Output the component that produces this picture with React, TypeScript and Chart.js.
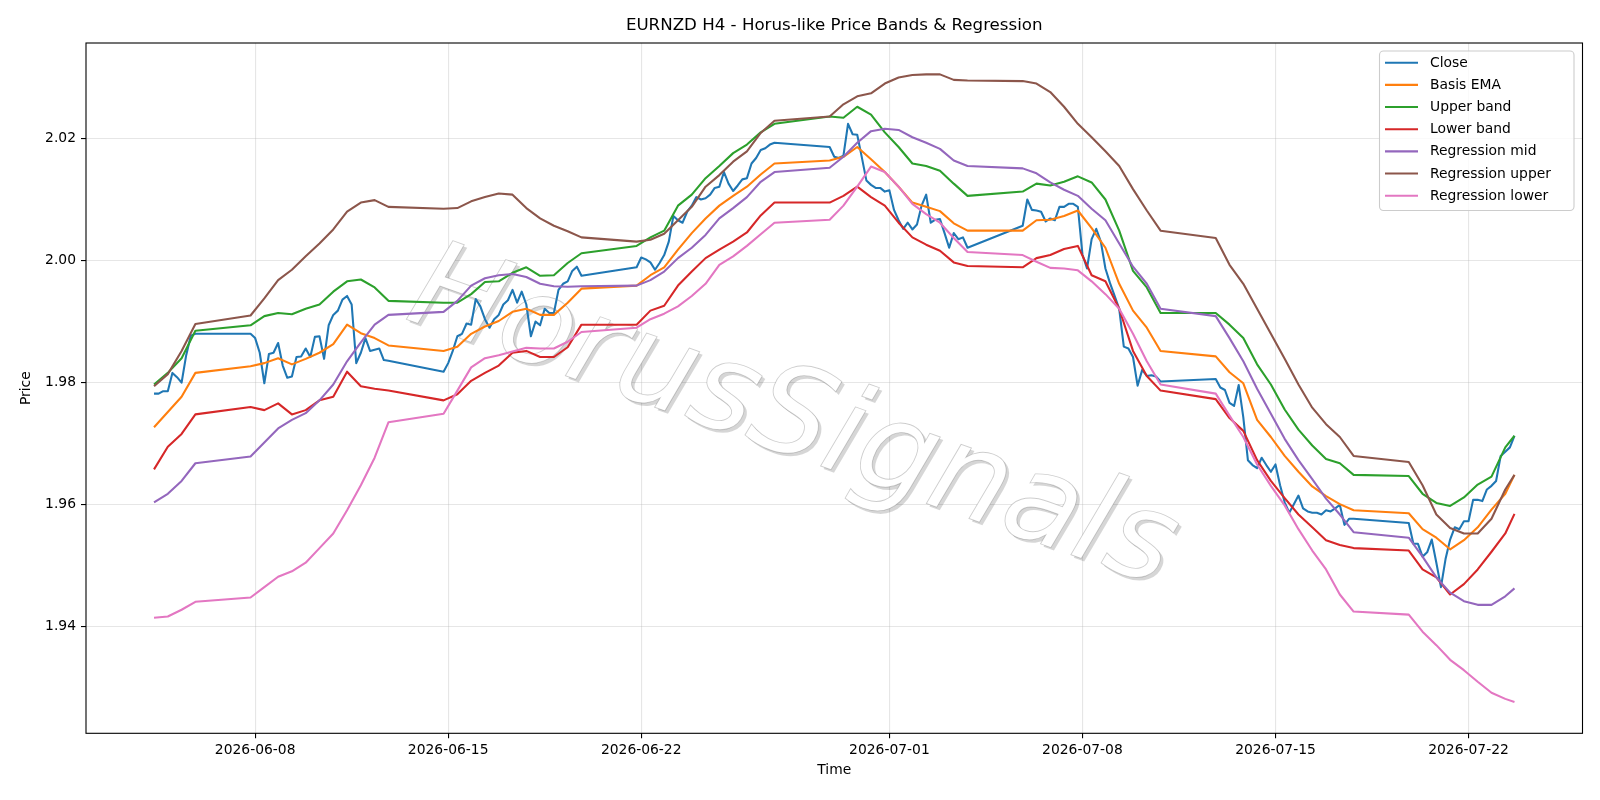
import React, { useEffect, useRef } from 'react';
import { Chart, registerables } from 'chart.js';

Chart.register(...registerables);

const FONT = '"DejaVu Sans", "Liberation Sans", sans-serif';
const TITLE = 'EURNZD H4 - Horus-like Price Bands & Regression';
const WATERMARK = 'HorusSignals';

// trading sessions (H4 bars, weekends removed)
const sessionStarts = [
  '2026-06-04T08:00:00Z',
  '2026-06-07T20:00:00Z',
  '2026-06-14T20:00:00Z',
  '2026-06-21T20:00:00Z',
  '2026-06-28T20:00:00Z',
  '2026-07-05T20:00:00Z',
  '2026-07-12T20:00:00Z',
  '2026-07-19T20:00:00Z',
];
const sessionBars = [10, 31, 31, 31, 31, 31, 31, 24];

const xTickLabels = ['2026-06-08', '2026-06-15', '2026-06-22', '2026-07-01', '2026-07-08', '2026-07-15', '2026-07-22'];
const yTickValues = [1.94, 1.96, 1.98, 2.0, 2.02];

const seriesNames = ['Close', 'Basis EMA', 'Upper band', 'Lower band', 'Regression mid', 'Regression upper', 'Regression lower'];
const seriesColors = ['#1f77b4', '#ff7f0e', '#2ca02c', '#d62728', '#9467bd', '#8c564b', '#e377c2'];

// Close, every H4 bar
const closeValues = [
  1.9782, 1.9782, 1.9786, 1.9786, 1.9816, 1.9809, 1.9800, 1.9845, 1.9877, 1.9880,
  1.9880, 1.9873, 1.9849, 1.9799, 1.9847, 1.9849, 1.9865, 1.9828, 1.9808, 1.9810, 1.9842, 1.9843, 1.9856, 1.9842, 1.9875, 1.9876, 1.9839, 1.9894, 1.9911, 1.9918, 1.9936, 1.9942, 1.9928, 1.9832, 1.9849, 1.9873, 1.9852, 1.9854, 1.9856, 1.9837, 1.9836,
  1.9818, 1.9832, 1.9852, 1.9876, 1.9880, 1.9897, 1.9895, 1.9937, 1.9925, 1.9904, 1.9890, 1.9904, 1.9911, 1.9928, 1.9935, 1.9952, 1.9931, 1.9949, 1.9928, 1.9876, 1.9900, 1.9894, 1.9921, 1.9914, 1.9914, 1.9952, 1.9962, 1.9966, 1.9983, 1.9990, 1.9975,
  1.9989, 2.0005, 2.0002, 1.9997, 1.9985, 1.9996, 2.0009, 2.0031, 2.0073, 2.0066, 2.0062, 2.0080, 2.0090, 2.0104, 2.0100, 2.0102, 2.0108, 2.0119, 2.0121, 2.0145, 2.0126, 2.0114, 2.0123, 2.0133, 2.0135, 2.0159, 2.0168, 2.0181, 2.0184, 2.0190, 2.0193,
  2.0186, 2.0170, 2.0168, 2.0172, 2.0224, 2.0207, 2.0206, 2.0169, 2.0131, 2.0124, 2.0119, 2.0119, 2.0113, 2.0115, 2.0083, 2.0066, 2.0052, 2.0062, 2.0051, 2.0059, 2.0090, 2.0108, 2.0062, 2.0067, 2.0068, 2.0045, 2.0021, 2.0045, 2.0035, 2.0038, 2.0021,
  2.0057, 2.0100, 2.0083, 2.0082, 2.0080, 2.0064, 2.0069, 2.0066, 2.0088, 2.0088, 2.0093, 2.0093, 2.0088, 2.0010, 1.9987, 2.0035, 2.0052, 2.0031, 1.9987, 1.9963, 1.9942, 1.9921, 1.9859, 1.9856, 1.9842, 1.9795, 1.9821, 1.9811, 1.9812, 1.9810, 1.9802,
  1.9806, 1.9792, 1.9788, 1.9767, 1.9762, 1.9796, 1.9743, 1.9673, 1.9665, 1.9660, 1.9677, 1.9665, 1.9654, 1.9666, 1.9632, 1.9604, 1.9587, 1.9601, 1.9615, 1.9594, 1.9589, 1.9587, 1.9587, 1.9584, 1.9591, 1.9589, 1.9594, 1.9600, 1.9567, 1.9577, 1.9577,
  1.9570, 1.9536, 1.9536, 1.9515, 1.9522, 1.9543, 1.9505, 1.9465, 1.9511, 1.9543, 1.9563, 1.9560, 1.9573, 1.9573, 1.9608, 1.9608, 1.9606, 1.9625, 1.9631, 1.9639, 1.9680, 1.9687, 1.9694, 1.9713,
];

// smooth series, sampled every third H4 bar (plus each session's last bar)
const basisEma = [
  1.9727, 1.9752, 1.9777, 1.9816,
  1.9827, 1.9832, 1.9840, 1.9830, 1.9839, 1.9849, 1.9863, 1.9895, 1.9881, 1.9873, 1.9861,
  1.9852, 1.9859, 1.9880, 1.9892, 1.9901, 1.9916, 1.9921, 1.9911, 1.9911, 1.9931, 1.9954,
  1.9959, 1.9976, 1.9989, 2.0018, 2.0045, 2.0069, 2.0090, 2.0106, 2.0121, 2.0141, 2.0159,
  2.0164, 2.0170, 2.0186, 2.0166, 2.0145, 2.0121, 2.0095, 2.0088, 2.0081, 2.0061, 2.0049,
  2.0049, 2.0066, 2.0067, 2.0073, 2.0082, 2.0053, 2.0021, 1.9962, 1.9918, 1.9890, 1.9852,
  1.9843, 1.9817, 1.9799, 1.9739, 1.9711, 1.9680, 1.9654, 1.9630, 1.9614, 1.9601, 1.9591,
  1.9586, 1.9560, 1.9546, 1.9527, 1.9542, 1.9563, 1.9592, 1.9618, 1.9649,
];
const upperBand = [
  1.9797, 1.9816, 1.9840, 1.9885,
  1.9894, 1.9909, 1.9914, 1.9912, 1.9921, 1.9928, 1.9949, 1.9966, 1.9969, 1.9956, 1.9934,
  1.9931, 1.9931, 1.9945, 1.9965, 1.9966, 1.9980, 1.9989, 1.9975, 1.9976, 1.9996, 2.0012,
  2.0024, 2.0038, 2.0049, 2.0090, 2.0108, 2.0135, 2.0155, 2.0176, 2.0190, 2.0210, 2.0224,
  2.0236, 2.0234, 2.0252, 2.0239, 2.0210, 2.0186, 2.0159, 2.0155, 2.0147, 2.0126, 2.0106,
  2.0113, 2.0126, 2.0123, 2.0129, 2.0138, 2.0128, 2.0100, 2.0049, 1.9983, 1.9956, 1.9914,
  1.9914, 1.9895, 1.9873, 1.9830, 1.9797, 1.9756, 1.9723, 1.9697, 1.9675, 1.9668, 1.9649,
  1.9647, 1.9618, 1.9603, 1.9598, 1.9612, 1.9633, 1.9646, 1.9694, 1.9713,
];
const lowerBand = [
  1.9658, 1.9695, 1.9716, 1.9748,
  1.9760, 1.9755, 1.9766, 1.9748, 1.9755, 1.9771, 1.9777, 1.9818, 1.9794, 1.9790, 1.9787,
  1.9771, 1.9781, 1.9803, 1.9816, 1.9828, 1.9849, 1.9852, 1.9842, 1.9842, 1.9858, 1.9895,
  1.9895, 1.9918, 1.9926, 1.9959, 1.9982, 2.0004, 2.0018, 2.0031, 2.0046, 2.0074, 2.0095,
  2.0095, 2.0106, 2.0121, 2.0104, 2.0090, 2.0062, 2.0038, 2.0026, 2.0016, 1.9997, 1.9991,
  1.9989, 2.0004, 2.0009, 2.0019, 2.0024, 1.9976, 1.9966, 1.9921, 1.9852, 1.9811, 1.9787,
  1.9773, 1.9742, 1.9721, 1.9673, 1.9639, 1.9611, 1.9584, 1.9563, 1.9542, 1.9534, 1.9529,
  1.9525, 1.9494, 1.9481, 1.9453, 1.9470, 1.9494, 1.9523, 1.9553, 1.9585,
];
const regressionMid = [
  1.9604, 1.9618, 1.9639, 1.9668,
  1.9679, 1.9702, 1.9725, 1.9739, 1.9750, 1.9771, 1.9797, 1.9835, 1.9866, 1.9895, 1.9911,
  1.9916, 1.9934, 1.9959, 1.9971, 1.9976, 1.9978, 1.9973, 1.9962, 1.9958, 1.9957, 1.9958,
  1.9959, 1.9968, 1.9982, 2.0004, 2.0021, 2.0042, 2.0069, 2.0086, 2.0104, 2.0129, 2.0145,
  2.0152, 2.0170, 2.0193, 2.0212, 2.0216, 2.0214, 2.0202, 2.0193, 2.0183, 2.0164, 2.0155,
  2.0151, 2.0143, 2.0128, 2.0116, 2.0106, 2.0085, 2.0066, 2.0028, 1.9990, 1.9962, 1.9921,
  1.9909, 1.9873, 1.9835, 1.9790, 1.9749, 1.9708, 1.9673, 1.9642, 1.9610, 1.9584, 1.9555,
  1.9546, 1.9515, 1.9481, 1.9456, 1.9442, 1.9436, 1.9436, 1.9450, 1.9463,
];
const regressionUpper = [
  1.9794, 1.9814, 1.9852, 1.9896,
  1.9910, 1.9938, 1.9968, 1.9985, 2.0007, 2.0028, 2.0051, 2.0080, 2.0095, 2.0099, 2.0088,
  2.0085, 2.0086, 2.0097, 2.0104, 2.0110, 2.0108, 2.0086, 2.0069, 2.0057, 2.0048, 2.0038,
  2.0031, 2.0034, 2.0044, 2.0066, 2.0088, 2.0121, 2.0140, 2.0162, 2.0179, 2.0209, 2.0229,
  2.0236, 2.0256, 2.0269, 2.0274, 2.0290, 2.0300, 2.0304, 2.0305, 2.0305, 2.0296, 2.0295,
  2.0294, 2.0290, 2.0276, 2.0252, 2.0224, 2.0202, 2.0179, 2.0155, 2.0117, 2.0082, 2.0049,
  2.0037, 1.9993, 1.9962, 1.9921, 1.9880, 1.9839, 1.9797, 1.9759, 1.9732, 1.9711, 1.9680,
  1.9670, 1.9632, 1.9584, 1.9562, 1.9553, 1.9553, 1.9577, 1.9625, 1.9649,
];
const regressionLower = [
  1.9415, 1.9417, 1.9428, 1.9441,
  1.9448, 1.9465, 1.9482, 1.9491, 1.9505, 1.9529, 1.9553, 1.9591, 1.9632, 1.9677, 1.9735,
  1.9749, 1.9787, 1.9825, 1.9840, 1.9845, 1.9851, 1.9857, 1.9856, 1.9856, 1.9867, 1.9883,
  1.9890, 1.9904, 1.9913, 1.9925, 1.9942, 1.9962, 1.9993, 2.0007, 2.0024, 2.0043, 2.0062,
  2.0067, 2.0090, 2.0121, 2.0154, 2.0145, 2.0121, 2.0093, 2.0076, 2.0062, 2.0037, 2.0014,
  2.0009, 1.9998, 1.9988, 1.9987, 1.9984, 1.9966, 1.9945, 1.9921, 1.9880, 1.9835, 1.9797,
  1.9782, 1.9746, 1.9711, 1.9666, 1.9631, 1.9599, 1.9560, 1.9525, 1.9494, 1.9453, 1.9425,
  1.9420, 1.9392, 1.9370, 1.9346, 1.9329, 1.9310, 1.9292, 1.9282, 1.9277,
];

const H4 = 4 * 3600 * 1000;
const barTimes: number[] = sessionStarts.flatMap((s, k) =>
  Array.from({ length: sessionBars[k] }, (_, i) => Date.parse(s) + i * H4)
);
const sampleTimes: number[] = sessionStarts.flatMap((s, k) => {
  const n = sessionBars[k];
  const idx: number[] = [];
  for (let i = 0; i < n; i += 3) idx.push(i);
  if (idx[idx.length - 1] !== n - 1) idx.push(n - 1);
  return idx.map((i) => Date.parse(s) + i * H4);
});
const xTickValues = xTickLabels.map((d) => Date.parse(d + 'T00:00:00Z'));

const seriesValues = [closeValues, basisEma, upperBand, lowerBand, regressionMid, regressionUpper, regressionLower];

function toPoints(times: number[], vals: number[]) {
  return vals.map((v, i) => ({ x: times[i], y: v }));
}

const GRID = 'rgba(176,176,176,0.32)';

const watermarkPlugin = {
  id: 'watermark',
  beforeDatasetsDraw(chart: any) {
    const ctx = chart.ctx;
    const cx = 792, cy = 422, ang = (19.5 * Math.PI) / 180;
    ctx.save();
    ctx.font = `italic 123px ${FONT}`;
    ctx.textAlign = 'center';
    ctx.textBaseline = 'middle';
    ctx.save();
    ctx.translate(cx + 3, cy + 3);
    ctx.rotate(ang);
    ctx.fillStyle = 'rgba(0,0,0,0.16)';
    ctx.fillText(WATERMARK, 0, 0);
    ctx.restore();
    ctx.save();
    ctx.translate(cx, cy);
    ctx.rotate(ang);
    ctx.fillStyle = '#ffffff';
    ctx.fillText(WATERMARK, 0, 0);
    ctx.lineWidth = 0.9;
    ctx.strokeStyle = 'rgba(0,0,0,0.2)';
    ctx.strokeText(WATERMARK, 0, 0);
    ctx.restore();
    ctx.restore();
  },
};

const framePlugin = {
  id: 'frame',
  afterDatasetsDraw(chart: any) {
    const { ctx, chartArea } = chart;
    ctx.save();
    ctx.strokeStyle = '#000';
    ctx.lineWidth = 1.1;
    ctx.strokeRect(chartArea.left, chartArea.top, chartArea.right - chartArea.left, chartArea.bottom - chartArea.top);
    ctx.restore();
  },
};

const legendPlugin = {
  id: 'legendBox',
  afterDraw(chart: any) {
    const ctx = chart.ctx;
    const x0 = 1379.5, y0 = 51, x1 = 1574, y1 = 210.5;
    ctx.save();
    ctx.beginPath();
    ctx.roundRect(x0, y0, x1 - x0, y1 - y0, 4);
    ctx.fillStyle = 'rgba(255,255,255,0.8)';
    ctx.fill();
    ctx.lineWidth = 1.1;
    ctx.strokeStyle = '#cccccc';
    ctx.stroke();
    ctx.font = `13.89px ${FONT}`;
    ctx.textAlign = 'left';
    ctx.textBaseline = 'middle';
    seriesNames.forEach((name, i) => {
      const y = 62.7 + i * 22.17;
      ctx.beginPath();
      ctx.moveTo(1385, y);
      ctx.lineTo(1418, y);
      ctx.strokeStyle = seriesColors[i];
      ctx.lineWidth = 2.08;
      ctx.stroke();
      ctx.fillStyle = '#000';
      ctx.fillText(name, 1430, y + 0.5);
    });
    ctx.restore();
  },
};

export default function App() {
  const ref = useRef<HTMLCanvasElement | null>(null);

  useEffect(() => {
    const canvas = ref.current;
    if (!canvas) return;
    Chart.defaults.font.family = FONT;
    Chart.defaults.color = '#000';

    const allX = barTimes;
    const xFirst = allX[0], xLast = allX[allX.length - 1];
    const xSpan = xLast - xFirst;
    const allY = seriesValues.flat();
    const yLo = Math.min(...allY), yHi = Math.max(...allY);
    const ySpan = yHi - yLo;

    const datasets = seriesValues.map((vals, i) => ({
      label: seriesNames[i],
      data: toPoints(i === 0 ? barTimes : sampleTimes, vals),
      borderColor: seriesColors[i],
      backgroundColor: seriesColors[i],
      borderWidth: 2.08,
      pointRadius: 0,
      tension: 0,
      fill: false,
      borderJoinStyle: 'round' as const,
      order: seriesValues.length - i,
    }));

    const chart = new Chart(canvas, {
      type: 'line',
      data: { datasets },
      options: {
        animation: false,
        responsive: false,
        events: [],
        layout: { padding: { left: 0, right: 17.5, top: 0, bottom: 0 } },
        plugins: {
          legend: { display: false },
          tooltip: { enabled: false },
          title: {
            display: true,
            text: TITLE,
            fullSize: false,
            color: '#000',
            font: { size: 16.67, weight: 'normal', family: FONT, lineHeight: 1.2 },
            padding: { top: 15.5, bottom: 7.5 },
          },
        },
        scales: {
          x: {
            type: 'linear',
            min: xFirst - 0.05 * xSpan,
            max: xLast + 0.05 * xSpan,
            afterBuildTicks: (s: any) => {
              s.ticks = xTickValues.map((v) => ({ value: v }));
            },
            afterFit: (s: any) => {
              s.height = 66.7;
            },
            ticks: {
              callback: (_v: any, i: number) => xTickLabels[i],
              color: '#000',
              font: { size: 13.89 },
              padding: 4,
              maxRotation: 0,
              autoSkip: false,
            },
            grid: { color: GRID, lineWidth: 1.1, tickLength: 5, tickColor: '#000', tickWidth: 1.1 },
            border: { display: false },
            title: { display: true, text: 'Time', color: '#000', font: { size: 13.89 }, padding: { top: 0, bottom: 21 } },
          },
          y: {
            type: 'linear',
            min: yLo - 0.05 * ySpan,
            max: yHi + 0.05 * ySpan,
            afterBuildTicks: (s: any) => {
              s.ticks = yTickValues.map((v) => ({ value: v }));
            },
            afterFit: (s: any) => {
              s.width = 86;
            },
            ticks: {
              callback: (v: any) => Number(v).toFixed(2),
              color: '#000',
              font: { size: 13.89 },
              padding: 5,
            },
            grid: { color: GRID, lineWidth: 1.1, tickLength: 5, tickColor: '#000', tickWidth: 1.1 },
            border: { display: false },
            title: { display: true, text: 'Price', color: '#000', font: { size: 13.89 }, padding: { top: 18.5, bottom: 0 } },
          },
        },
      } as any,
      plugins: [watermarkPlugin, framePlugin, legendPlugin],
    });
    return () => chart.destroy();
  }, []);

  return (
    <div style={{ position: 'fixed', left: 0, top: 0, width: 1600, height: 800, background: '#fff' }}>
      <canvas ref={ref} width={1600} height={800} style={{ display: 'block', width: 1600, height: 800 }} />
    </div>
  );
}
